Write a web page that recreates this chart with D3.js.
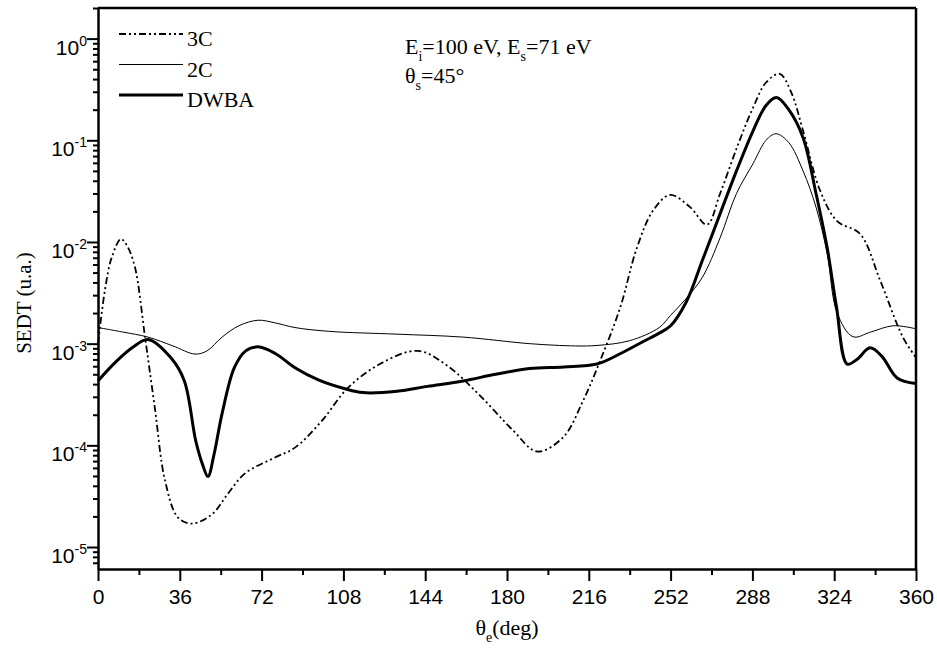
<!DOCTYPE html>
<html>
<head>
<meta charset="utf-8">
<script src="https://cdn.jsdelivr.net/npm/d3@7"></script>
<style>
  body { margin: 0; background: #fff; }
</style>
</head>
<body>
<div id="chart"></div>
<script>
// values: angle in degrees, SEDT in u.a.
const dwbaAngle = [0, 7.5, 15, 22, 32, 38, 43, 46, 48.4, 51, 54.6, 60, 65, 70.4, 78, 86.7, 97, 108.7, 116.6, 131.6, 145, 160.7, 175, 190, 205, 219.6, 230, 240, 247, 252, 259, 266, 273.8, 281, 288.3, 294, 298.6, 304, 310.3, 316, 320.9, 325, 329.7, 334, 339.8, 345, 351.7, 360];
const dwbaValue = [4.3e-4, 6.5e-4, 9.1e-4, 1.1e-3, 7.3e-4, 4.3e-4, 1.11e-4, 6.5e-5, 4.93e-5, 8e-5, 2.05e-4, 5.8e-4, 8.5e-4, 9.3e-4, 8.0e-4, 5.8e-4, 4.4e-4, 3.6e-4, 3.3e-4, 3.4e-4, 3.8e-4, 4.3e-4, 5.0e-4, 5.7e-4, 5.9e-4, 6.3e-4, 8.0e-4, 1.05e-3, 1.27e-3, 1.5e-3, 2.6e-3, 6.6e-3, 1.9e-2, 5.0e-2, 0.124, 0.22, 0.263, 0.2, 0.106, 0.03, 8.8e-3, 2.3e-3, 6.3e-4, 7e-4, 9.1e-4, 7.5e-4, 4.6e-4, 4.05e-4];

const twoCAngle = [0, 11, 22, 33, 42.7, 48, 54.6, 62, 70.4, 78, 86.7, 102, 131.6, 160.7, 190, 210, 219.6, 234, 247, 252, 259, 266, 273.8, 281, 288.3, 294, 298.4, 304, 310.3, 316, 320.9, 325.3, 332.3, 340, 350, 360];
const twoCValue = [1.44e-3, 1.3e-3, 1.16e-3, 9.5e-4, 7.9e-4, 8.5e-4, 1.16e-3, 1.5e-3, 1.7e-3, 1.6e-3, 1.44e-3, 1.32e-3, 1.24e-3, 1.16e-3, 1.0e-3, 9.5e-4, 9.6e-4, 1.07e-3, 1.44e-3, 1.9e-3, 2.8e-3, 4.5e-3, 1.1e-2, 3.0e-2, 5.9e-2, 0.1, 0.116, 0.095, 0.05, 0.022, 7.7e-3, 2.0e-3, 1.17e-3, 1.3e-3, 1.5e-3, 1.4e-3];

const threeCAngle = [0, 3, 6, 10.1, 13, 16.3, 20.7, 25, 29.5, 35.2, 41.4, 50.2, 57, 64.7, 77.9, 86.7, 98.6, 109.6, 124, 140.8, 153.6, 168, 182.7, 193.2, 204.7, 213.5, 221, 229.8, 237.2, 244.3, 251.8, 260.6, 268, 273.8, 281.2, 288.3, 294, 300, 305, 310.3, 317.8, 325.3, 335.4, 344.2, 354.3, 360];
const threeCValue = [1.0e-3, 3.3e-3, 7e-3, 1.07e-2, 9e-3, 5.6e-3, 1.16e-3, 2.35e-4, 4.5e-5, 1.95e-5, 1.7e-5, 2.1e-5, 3.3e-5, 5.3e-5, 7.6e-5, 9.5e-5, 1.75e-4, 3.6e-4, 6.3e-4, 8.5e-4, 6.1e-4, 3.1e-4, 1.4e-4, 8.7e-5, 1.2e-4, 2.75e-4, 6.8e-4, 2.26e-3, 8.8e-3, 2.04e-2, 2.9e-2, 2.2e-2, 1.48e-2, 3.0e-2, 8.5e-2, 0.21, 0.37, 0.45, 0.3, 0.124, 3.2e-2, 1.6e-2, 1.2e-2, 4.2e-3, 1.15e-3, 7.3e-4];

const xTicks = [0, 36, 72, 108, 144, 180, 216, 252, 288, 324, 360];
const yDecades = [-5, -4, -3, -2, -1, 0];
const legendNames = ["3C", "2C", "DWBA"];

const margin = { top: 8, right: 21, bottom: 88, left: 98 };
const width = 937 - margin.left - margin.right;
const height = 657 - margin.top - margin.bottom;

const svg = d3.select("#chart")
    .append("svg")
    .attr("width", 937)
    .attr("height", 657)
    .append("g")
    .attr("transform", `translate(${margin.left}, ${margin.top})`);

const xScale = d3.scaleLinear()
    .domain([0, 360])
    .range([0, width]);

const yScale = d3.scaleLog()
    .domain([6.08e-6, 2])
    .range([height, 0]);

// x axis: major ticks with labels, minor ticks halfway
const xMinor = xTicks.slice(0, -1).map(d => d + 18);
svg.append("g")
    .attr("transform", `translate(0, ${height})`)
    .call(d3.axisBottom(xScale).tickValues(xMinor).tickSize(6).tickFormat(""))
    .call(g => g.select(".domain").remove())
    .selectAll("line").attr("stroke-width", 2);

const xAxis = svg.append("g")
    .attr("transform", `translate(0, ${height})`)
    .call(d3.axisBottom(xScale).tickValues(xTicks).tickSize(12).tickSizeOuter(0).tickPadding(8));
xAxis.select(".domain").attr("stroke-width", 2.5);
xAxis.selectAll("line").attr("stroke-width", 2);
xAxis.selectAll("text")
    .style("font-family", "Arial, 'Liberation Sans', sans-serif")
    .style("font-size", "21px")
    .attr("fill", "#000");

// y axis: minor ticks 2..9 in every decade
const yMinor = [];
yDecades.concat([-6]).forEach(p => {
    for (let m = 2; m <= 9; m++) {
        const v = m * Math.pow(10, p);
        if (v >= yScale.domain()[0] && v <= yScale.domain()[1]) yMinor.push(v);
    }
});
svg.append("g")
    .call(d3.axisLeft(yScale).tickValues(yMinor).tickSize(5).tickFormat(""))
    .call(g => g.select(".domain").remove())
    .selectAll("line").attr("stroke-width", 2);

const yAxis = svg.append("g")
    .call(d3.axisLeft(yScale).tickValues(yDecades.map(p => Math.pow(10, p))).tickSize(11).tickSizeOuter(0).tickFormat(""));
yAxis.select(".domain").attr("stroke-width", 2.5);
yAxis.selectAll("line").attr("stroke-width", 2);

// decade labels 10^n
yDecades.forEach(p => {
    const t = svg.append("text")
        .attr("x", -11)
        .attr("y", yScale(Math.pow(10, p)) + 16)
        .attr("text-anchor", "end")
        .style("font-family", "Arial, 'Liberation Sans', sans-serif")
        .style("font-size", "21px");
    t.append("tspan").text("10");
    t.append("tspan")
        .attr("dy", -9)
        .style("font-size", "14px")
        .text(p);
});

// top and right frame
svg.append("line")
    .attr("x1", 0).attr("x2", width)
    .attr("y1", 0).attr("y2", 0)
    .attr("stroke", "#000").attr("stroke-width", 2.5);
svg.append("line")
    .attr("x1", width).attr("x2", width)
    .attr("y1", 0).attr("y2", height)
    .attr("stroke", "#000").attr("stroke-width", 2.5);

const line = d3.line()
    .x(d => xScale(d[0]))
    .y(d => yScale(d[1]))
    .curve(d3.curveCatmullRom.alpha(0.5));

const series = [
    { name: "3C", data: d3.zip(threeCAngle, threeCValue), width: 1.8, dash: "7,3,2,3,2,3" },
    { name: "2C", data: d3.zip(twoCAngle, twoCValue), width: 1, dash: null },
    { name: "DWBA", data: d3.zip(dwbaAngle, dwbaValue), width: 3, dash: null }
];

series.forEach(s => {
    svg.append("path")
        .datum(s.data)
        .attr("fill", "none")
        .attr("stroke", "#000")
        .attr("stroke-width", s.width)
        .attr("stroke-dasharray", s.dash)
        .attr("d", line);
});

// legend
const legend = svg.append("g")
    .attr("transform", "translate(21, 26)");
legendNames.forEach((name, i) => {
    const s = series[i];
    legend.append("line")
        .attr("x1", 0).attr("x2", 64)
        .attr("y1", i * 30.5).attr("y2", i * 30.5)
        .attr("stroke", "#000")
        .attr("stroke-width", s.width)
        .attr("stroke-dasharray", s.dash);
    legend.append("text")
        .attr("x", 68)
        .attr("y", i * 30.5 + 12)
        .style("font-family", "'Liberation Serif', 'Times New Roman', serif")
        .style("font-size", "22px")
        .text(name);
});

// annotation
const serif = "'Liberation Serif', 'Times New Roman', serif";
const note1 = svg.append("text")
    .attr("x", 307).attr("y", 46)
    .style("font-family", serif)
    .style("font-size", "22px");
note1.append("tspan").text("E");
note1.append("tspan").attr("dy", 7).style("font-size", "14px").text("i");
note1.append("tspan").attr("dy", -7).text("=100 eV, E");
note1.append("tspan").attr("dy", 7).style("font-size", "14px").text("s");
note1.append("tspan").attr("dy", -7).text("=71 eV");

const note2 = svg.append("text")
    .attr("x", 307).attr("y", 75)
    .style("font-family", serif)
    .style("font-size", "22px");
note2.append("tspan").text("θ");
note2.append("tspan").attr("dy", 7).style("font-size", "14px").text("s");
note2.append("tspan").attr("dy", -7).text("=45°");

// axis titles
const xLabel = svg.append("text")
    .attr("x", width / 2)
    .attr("y", height + 66)
    .attr("text-anchor", "middle")
    .style("font-family", serif)
    .style("font-size", "22px");
xLabel.append("tspan").text("θ");
xLabel.append("tspan").attr("dy", 7).style("font-size", "14px").text("e");
xLabel.append("tspan").attr("dy", -7).text("(deg)");

svg.append("text")
    .attr("transform", "rotate(-90)")
    .attr("x", -(303 - margin.top))
    .attr("y", -margin.left + 31)
    .attr("text-anchor", "middle")
    .style("font-family", serif)
    .style("font-size", "21px")
    .text("SEDT (u.a.)");
</script>
</body>
</html>
